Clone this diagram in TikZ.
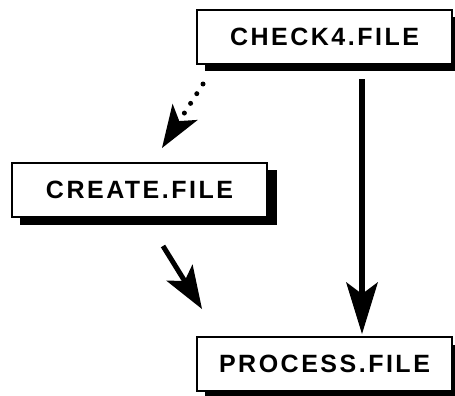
\documentclass[tikz,border=0pt]{standalone}
\usepackage{fontspec}
\newfontfamily\lblfont[LetterSpace=10]{Liberation Sans}
\usetikzlibrary{arrows.meta,calc}

\tikzset{
  filebox/.style={draw=black, line width=1.6pt, fill=white, minimum width=255pt,
    minimum height=54pt, inner sep=0pt, outer sep=0pt,
    font=\lblfont\bfseries\fontsize{25}{29}\selectfont},
  boxshadow/.style={fill=black},
  bigarrow/.style={line width=6pt, -{Stealth[length=52pt,width=32pt,inset=12pt,line width=0pt]}},
  midarrow/.style={line width=5pt, -{Stealth[length=43pt,width=31pt,inset=10pt,line width=0pt]}},
  dotarrow/.style={line width=5pt, line cap=round, dash pattern=on 0pt off 11.5pt,
    -{Stealth[length=43pt,width=30pt,inset=11pt,line width=0pt]}}
}

\begin{document}
\begin{tikzpicture}[x=1pt,y=-1pt]
  \useasboundingbox (0,0) rectangle (455,396);

  % drop shadows behind the boxes
  \fill[boxshadow] (205,17) rectangle (460,71);
  \fill[boxshadow] (20,170) rectangle (277,225);
  \fill[boxshadow] (205,345) rectangle (460,399);

  % the three file boxes
  \node[filebox] (check)   at (324.5,37)  {CHECK4.FILE};
  \node[filebox] (create)  at (139.5,190) {CREATE.FILE};
  \node[filebox] (process) at (324.5,364) {PROCESS.FILE};

  % connectors
  \draw[bigarrow] ($(check.south)+(37.5,15)$) -- ($(process.north)+(37.5,-3)$);
  \draw[dotarrow] ($(check.south west)+(6,20)$) -- ($(create.north)+(22.5,-15)$);
  \draw[midarrow] ($(create.south)+(23.5,29)$) -- ($(process.north west)+(5,-28)$);
\end{tikzpicture}
\end{document}
